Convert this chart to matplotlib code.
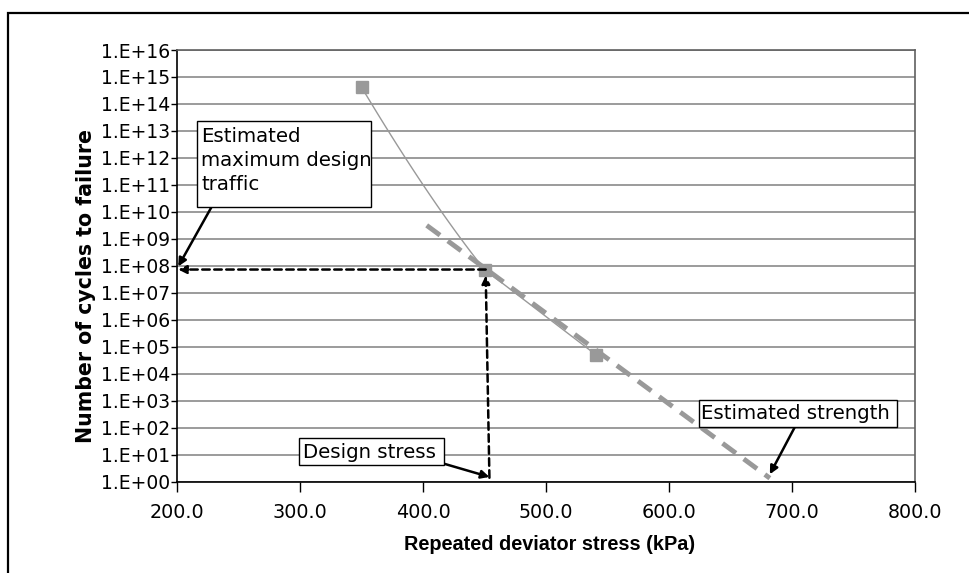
import matplotlib.pyplot as plt
import numpy as np
from matplotlib.patches import Rectangle
from matplotlib.ticker import FixedLocator, FuncFormatter, NullLocator

# measured points: repeated deviator stress (kPa) vs cycles to failure
stress = [350.0, 450.0, 541.0]
cycles = [4.2e14, 7.3e7, 4.9e4]

# log-linear trend line end points
trend_stress = [403.0, 682.0]
trend_cycles = [10 ** 9.5, 10 ** 0.13]

# design point
design_stress = 451.0
design_traffic = 7.3e7

x_ticks = [200.0, 300.0, 400.0, 500.0, 600.0, 700.0, 800.0]
y_exponents = list(range(0, 17))

W, H = 969, 573


def smooth(xs, ys, n=80):
    # bent first segment, straight after that (done in log space)
    px = np.array(xs, float)
    py = np.log10(np.array(ys, float))
    t = np.linspace(0, 1, n)
    # control point pushed off the chord of the first segment
    cx = px[0] + 0.55 * (px[1] - px[0])
    cy = py[0] + 0.62 * (py[1] - py[0])
    bx = (1 - t) ** 2 * px[0] + 2 * (1 - t) * t * cx + t ** 2 * px[1]
    by = (1 - t) ** 2 * py[0] + 2 * (1 - t) * t * cy + t ** 2 * py[1]
    out_x = np.concatenate([bx, px[2:]])
    out_y = np.concatenate([by, py[2:]])
    return out_x, 10 ** out_y


def fig_px(x, y):
    # pixel position measured from the top-left corner
    return (x / W, 1 - y / H)


fig = plt.figure(figsize=(W / 100, H / 100), dpi=100)
ax = fig.add_axes([177 / W, 1 - 481.7 / H, 738 / W, 431.7 / H])

# outer chart frame (runs off the right and bottom edge)
fig.patches.append(Rectangle((8 / W, -0.1), 1.2, 1.1 - 13 / H,
                             transform=fig.transFigure, fill=False,
                             edgecolor='black', linewidth=1.6))

ax.set_yscale('log')
ax.set_xlim(200, 800)
ax.set_ylim(1, 1e16)

ax.yaxis.set_major_locator(FixedLocator([10.0 ** e for e in y_exponents]))
ax.yaxis.set_minor_locator(NullLocator())
ax.yaxis.set_major_formatter(FuncFormatter(
    lambda v, p: '1.E+%02d' % int(round(np.log10(v)))))
ax.set_xticks(x_ticks)
ax.xaxis.set_major_formatter(FuncFormatter(lambda v, p: '%.1f' % v))

ax.tick_params(axis='y', direction='out', length=4, width=1, pad=1,
               labelsize=13.5)
ax.tick_params(axis='x', direction='out', length=7, width=1, pad=8,
               labelsize=13.8)

ax.grid(axis='y', color='#808080', linewidth=1.1)
ax.set_axisbelow(True)
for side in ['left', 'bottom']:
    ax.spines[side].set_color('black')
    ax.spines[side].set_linewidth(1.2)
for side in ['top', 'right']:
    ax.spines[side].set_color('#606060')
    ax.spines[side].set_linewidth(1.2)

# data line and markers
sx, sy = smooth(stress, cycles)
ax.plot(sx, sy, color='#999999', linewidth=1.0, zorder=3)
ax.plot(stress, cycles, linestyle='none', marker='s', markersize=9,
        color='#999999', zorder=4)

# trend line
ax.plot(trend_stress, trend_cycles, color='#999999', linewidth=3.5,
        dashes=(3.4, 2.0), zorder=3)

# design stress / design traffic dashed arrows
dashed = dict(arrowstyle='-|>', color='black', lw=1.8,
              linestyle=(0, (3, 1.8)), mutation_scale=12,
              shrinkA=0, shrinkB=0)
ax.annotate('', xy=(201, design_traffic), xytext=(design_stress, design_traffic),
            arrowprops=dashed, zorder=5)
ax.annotate('', xy=(design_stress, design_traffic * 0.6),
            xytext=(design_stress + 3, 1.4), arrowprops=dashed, zorder=5)

# callout boxes
boxes = [
    (196.7, 121.0, 174.3, 85.7),
    (299.3, 438.3, 145.0, 26.7),
    (699.0, 400.0, 197.7, 26.7),
]
for bx, by, bw, bh in boxes:
    fig.patches.append(Rectangle(fig_px(bx, by + bh), bw / W, bh / H,
                                 transform=fig.transFigure, facecolor='white',
                                 edgecolor='black', linewidth=1.0, zorder=6))

fs = 14.2
fig.text(*fig_px(201, 142), 'Estimated', fontsize=fs, va='baseline', zorder=7)
fig.text(*fig_px(201, 166), 'maximum design', fontsize=fs, va='baseline', zorder=7)
fig.text(*fig_px(201, 190), 'traffic', fontsize=fs, va='baseline', zorder=7)
fig.text(*fig_px(303, 452), 'Design stress', fontsize=fs, va='center', zorder=7)
fig.text(*fig_px(701, 413.5), 'Estimated strength', fontsize=fs, va='center',
         zorder=7)

arrow = dict(arrowstyle='-|>', color='black', lw=1.8, mutation_scale=12,
             shrinkA=0, shrinkB=0)
ax.annotate('', xy=(201, design_traffic * 1.3), xycoords='data',
            xytext=fig_px(211.7, 206.7), textcoords='figure fraction',
            arrowprops=arrow, zorder=8)
ax.annotate('', xy=(design_stress + 3, 1.5), xycoords='data',
            xytext=fig_px(443.3, 463.5), textcoords='figure fraction',
            arrowprops=arrow, zorder=8)
ax.annotate('', xy=(trend_stress[1], trend_cycles[1] * 1.4), xycoords='data',
            xytext=fig_px(795, 426.7), textcoords='figure fraction',
            arrowprops=arrow, zorder=8)

ax.set_xlabel('Repeated deviator stress (kPa)', family='Liberation Sans',
              fontweight='bold', fontsize=14.3)
ax.xaxis.set_label_coords(0.505, -0.123)
ax.set_ylabel('Number of cycles to failure', family='DejaVu Sans',
              fontweight='bold', fontsize=14.8)
ax.yaxis.set_label_coords(-0.11, 0.453)

fig.savefig('out.png', dpi=100)
